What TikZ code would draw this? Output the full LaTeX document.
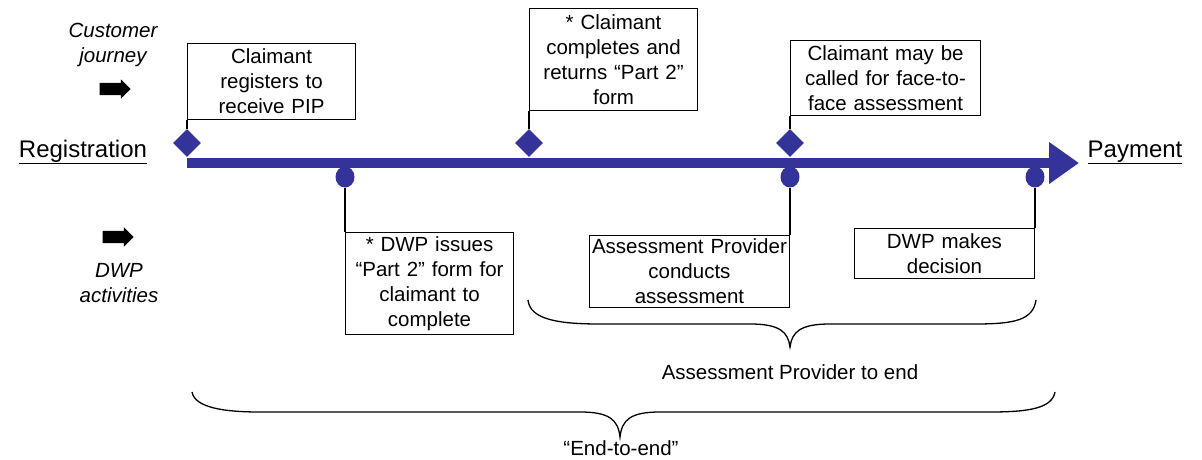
\documentclass[tikz,border=0pt]{standalone}
\usepackage{fontspec}
\setmainfont{Liberation Sans}
\usetikzlibrary{arrows.meta,shapes.geometric,shapes.arrows}
\definecolor{timeblue}{RGB}{51,51,153}

\begin{document}
\begin{tikzpicture}[x=1pt, y=-1pt,
  txt/.style={font=\fontsize{20.5}{25}\selectfont, align=center, inner sep=0},
  stagebox/.style={draw, line width=1.1pt, align=center, inner sep=2pt, anchor=north west,
    font=\fontsize{20.5}{25}\selectfont},
  milestone/.style={diamond, fill=timeblue, minimum width=28pt, minimum height=28pt, inner sep=0},
  dot/.style={ellipse, fill=timeblue, minimum width=19pt, minimum height=21pt, inner sep=0},
  link/.style={line width=1.1pt},
  blockarrow/.style={single arrow, fill=black, inner xsep=0, inner ysep=6pt,
    single arrow head extend=3.5pt, minimum height=31pt},
  bracepath/.style={line width=1.3pt}]
\useasboundingbox (0,0) rectangle (1202,460);

\node[txt, font=\fontsize{20.5}{25}\selectfont\itshape] (cjlabel) at (113,45) {Customer\\journey};
\node[blockarrow] (cjarrow) at (112,89) {};
\node[blockarrow] (dwparrow) at (115,237) {};
\node[txt, font=\fontsize{20.5}{25}\selectfont\itshape] (dwplabel) at (119,283) {DWP\\activities};

\node[txt, font=\fontsize{24}{28}\selectfont, anchor=base] (registration) at (83,157) {\underline{Registration}};
\node[txt, font=\fontsize{24}{28}\selectfont, anchor=base] (payment) at (1135,157) {\underline{Payment}};

\coordinate (barstart) at (187,163);
\coordinate (barend) at (1079,163);

\node[stagebox, minimum width=168pt, minimum height=76pt, text width=164pt] (register) at (187,43)
  {Claimant\\registers to\\receive PIP};
\node[stagebox, minimum width=168pt, minimum height=102pt, text width=164pt] (issue) at (345,232)
  {* DWP issues\\“Part 2” form for\\claimant to\\complete};
\node[stagebox, minimum width=168pt, minimum height=102pt, text width=164pt] (returns) at (529,8)
  {* Claimant\\completes and\\returns “Part 2”\\form};
\node[stagebox, minimum width=190pt, minimum height=75pt, text width=186pt] (called) at (790,40)
  {Claimant may be\\called for face-to-\\face assessment};
\node[stagebox, minimum width=200pt, minimum height=72pt, text width=196pt, anchor=north east] (conducts) at (790,235)
  {Assessment Provider\\conducts\\assessment};
\node[stagebox, minimum width=180pt, minimum height=50pt, text width=176pt, anchor=north east] (decision) at (1035,228)
  {DWP makes\\decision};

\node[milestone] (m1) at (187,143) {};
\node[milestone] (m2) at (529,143) {};
\node[milestone] (m3) at (790,143) {};
\node[dot] (d1) at (345,177) {};
\node[dot] (d2) at (790,177) {};
\node[dot] (d3) at (1035,177) {};

\draw[line width=10pt, timeblue, -{Triangle[length=30pt, width=40pt]}] (barstart) -- (barend);

\draw[link] (register.south west) -- (m1);
\draw[link] (returns.south west) -- (m2);
\draw[link] (called.south west) -- (m3);
\draw[link] (d1) -- (issue.north west);
\draw[link] (d2) -- (conducts.north east);
\draw[link] (d3) -- (decision.north east);

\draw[bracepath] (528,300) .. controls (530,320) and (560,324) .. (600,324) -- (750,324)
  .. controls (780,324) and (788,332) .. (790,347) .. controls (792,332) and (800,324) .. (830,324)
  -- (975,324) .. controls (1015,324) and (1033,320) .. (1036,300);
\node[txt] (aplabel) at (790,372) {Assessment Provider to end};

\draw[bracepath] (192,392) .. controls (195,408) and (225,412) .. (260,412) -- (580,412)
  .. controls (610,412) and (618,420) .. (620,437) .. controls (622,420) and (630,412) .. (660,412)
  -- (990,412) .. controls (1030,412) and (1052,408) .. (1055,392);
\node[txt] (e2elabel) at (621,448) {“End-to-end”};
\end{tikzpicture}
\end{document}
